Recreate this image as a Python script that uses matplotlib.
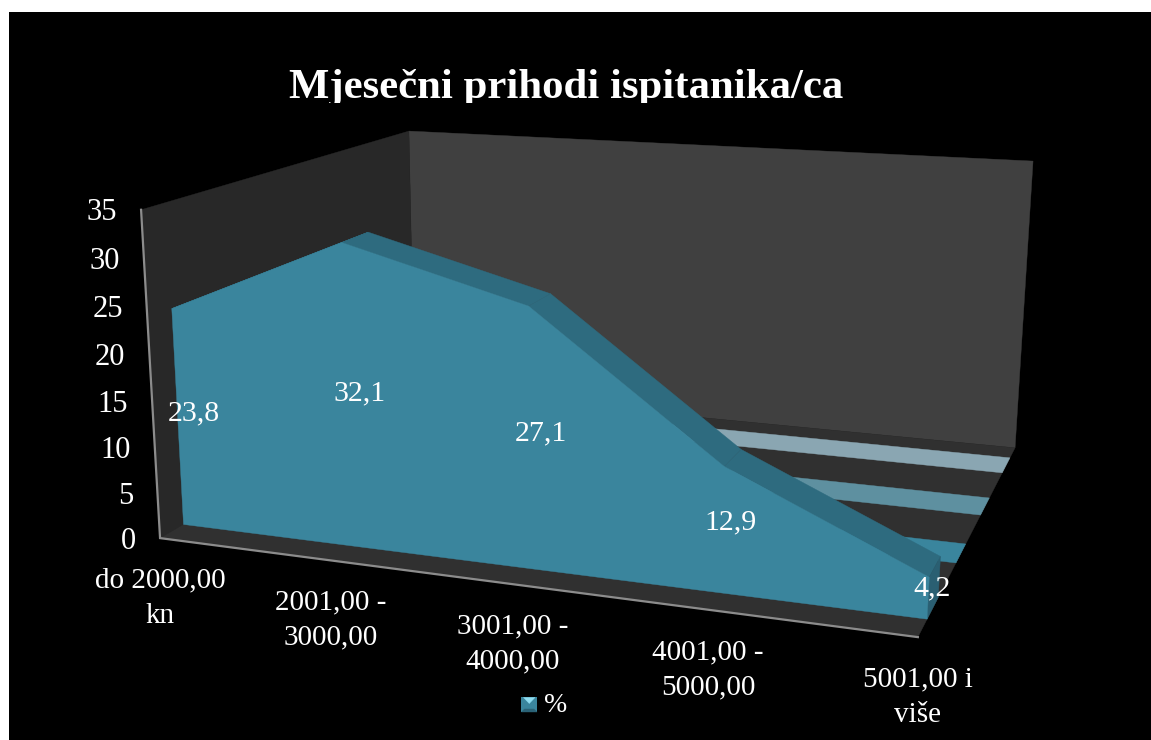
import numpy as np
import matplotlib
matplotlib.use("Agg")
import matplotlib.pyplot as plt
from matplotlib.patches import Polygon, Rectangle

# ---- data ----
categories = ["do 2000,00\nkn", "2001,00 -\n3000,00", "3001,00 -\n4000,00",
              "4001,00 -\n5000,00", "5001,00 i\nviše"]
values = [23.8, 32.1, 27.1, 12.9, 4.2]
value_labels = ["23,8", "32,1", "27,1", "12,9", "4,2"]
ticks = [0, 5, 10, 15, 20, 25, 30, 35]
series_name = "%"
title = "Mjesečni prihodi ispitanika/ca"

# ---- projection: (category fraction, value, depth) -> pixel ----
VMAX = 35.0
box_world = [(0, 0, 0), (0, 1, 0), (1, 0, 0), (0, 1, 1), (1, 1, 1), (1, 0, 1)]
box_pixel = [(160, 538), (141, 210), (918, 637), (409, 131), (1033, 161), (1015, 448)]

rows, rhs = [], []
for (a, b, c), (u, v) in zip(box_world, box_pixel):
    rows.append([a, b, c, 1, 0, 0, 0, 0, -u * a, -u * b, -u * c])
    rows.append([0, 0, 0, 0, a, b, c, 1, -v * a, -v * b, -v * c])
    rhs += [u, v]
P = np.append(np.linalg.lstsq(np.array(rows, float), np.array(rhs, float), rcond=None)[0], 1).reshape(3, 4)


def proj(t, val, d):
    h = P @ np.array([t, val / VMAX, d, 1.0])
    return h[0] / h[2], h[1] / h[2]


k = (P @ np.array([1, 0, 1, 1.0]))[2] / (P @ np.array([1, 0, 0, 1.0]))[2]


def depth(s):
    # depth whose floor point lies at fraction s of the floor's right edge on screen
    return s / (k - s * (k - 1))


plt.rcParams["font.family"] = ["Liberation Serif", "DejaVu Serif"]
fig = plt.figure(figsize=(11.51, 7.40), dpi=100, facecolor="white")
ax = fig.add_axes([0, 0, 1, 1])
ax.set_xlim(0, 1151)
ax.set_ylim(740, 0)
ax.axis("off")
ax.add_patch(Rectangle((9, 12), 1142, 728, fc="black", ec="none", zorder=0))


def poly(pts, color, z):
    ax.add_patch(Polygon(pts, closed=True, fc=color, ec=color, lw=0.3, zorder=z))


# walls and floor
poly([proj(0, 0, 1), proj(0, VMAX, 1), proj(1, VMAX, 1), proj(1, 0, 1)], "#404040", 1)
poly([proj(0, 0, 0), proj(0, VMAX, 0), proj(0, VMAX, 1), proj(0, 0, 1)], "#282828", 1)
poly([proj(0, 0, 0), proj(1, 0, 0), proj(1, 0, 1), proj(0, 0, 1)], "#303030", 1)

# floor bands behind the area
for (s0, s1), col in zip([(0.868, 0.947), (0.645, 0.735), (0.392, 0.492)],
                         ["#8aa6b2", "#5e90a0", "#3a859d"]):
    d0, d1 = depth(s0), depth(s1)
    poly([proj(0, 0, d0), proj(1, 0, d0), proj(1, 0, d1), proj(0, 0, d1)], col, 2)

# axis lines
ax.plot(*zip(proj(0, VMAX, 0), proj(0, 0, 0), proj(1, 0, 0)), color="#8c8c8c", lw=1.6,
        zorder=3, solid_joinstyle="miter")

# area
D_FRONT, D_BACK = depth(0.095), depth(0.21)
tpos = np.linspace(0, 1, len(values))
for i in range(len(values) - 1):
    poly([proj(tpos[i], values[i], D_FRONT), proj(tpos[i + 1], values[i + 1], D_FRONT),
          proj(tpos[i + 1], values[i + 1], D_BACK), proj(tpos[i], values[i], D_BACK)], "#2e6b7f", 4)
poly([proj(1, 0, D_FRONT), proj(1, values[-1], D_FRONT), proj(1, values[-1], D_BACK), proj(1, 0, D_BACK)],
     "#2a5f72", 4)
front = [proj(0, 0, D_FRONT)] + [proj(t, v, D_FRONT) for t, v in zip(tpos, values)] + [proj(1, 0, D_FRONT)]
poly(front, "#3a859d", 5)

# data labels: on the front face, halfway up each category, with a per-label offset
label_offsets = [(16, -5), (13, -4), (12, -6), (8, -8), (4, -10)]
for t, v, lab, (dx, dy) in zip(tpos, values, value_labels, label_offsets):
    x, y = proj(t, v / 2, D_FRONT)
    ax.text(x + dx, y + dy, lab, color="white", fontsize=21.5,
            ha="center", va="center", zorder=6)

# value axis labels
for tick in ticks:
    x, y = proj(0, tick, 0)
    ax.text(x - 24, y + 3, str(tick), color="white", fontsize=22, ha="right", va="center", zorder=6)

# category labels
for t, lab in zip(tpos, categories):
    x, y = proj(t, 0, 0)
    ax.text(x, y + 60, lab, color="white", fontsize=21, ha="center", va="center",
            linespacing=1.45, zorder=6)

# title, clipped at its bottom like the reference
ttl = ax.text(566.5, 98, title, color="white", fontsize=30.8, fontweight="bold", ha="center",
              va="baseline", zorder=6)
ttl.set_clip_path(Rectangle((0, 0), 1151, 102.5, transform=ax.transData))
ttl.set_clip_on(True)

# legend
sx, sy, sw = 521.5, 696.5, 15.5
ax.add_patch(Rectangle((sx, sy), sw, sw, fc="#3a859d", ec="none", zorder=6))
poly([(sx + 2, sy + 1), (sx + sw - 2, sy + 1), (sx + sw / 2, sy + 7)], "#8fdcf0", 7)
poly([(sx, sy + sw), (sx + sw, sy + sw), (sx + sw - 3, sy + sw - 3), (sx + 3, sy + sw - 3)], "#2a6276", 7)
ax.text(544, 705, series_name, color="white", fontsize=20, ha="left", va="center", zorder=6)

fig.savefig("out.png", dpi=100, facecolor="white")
